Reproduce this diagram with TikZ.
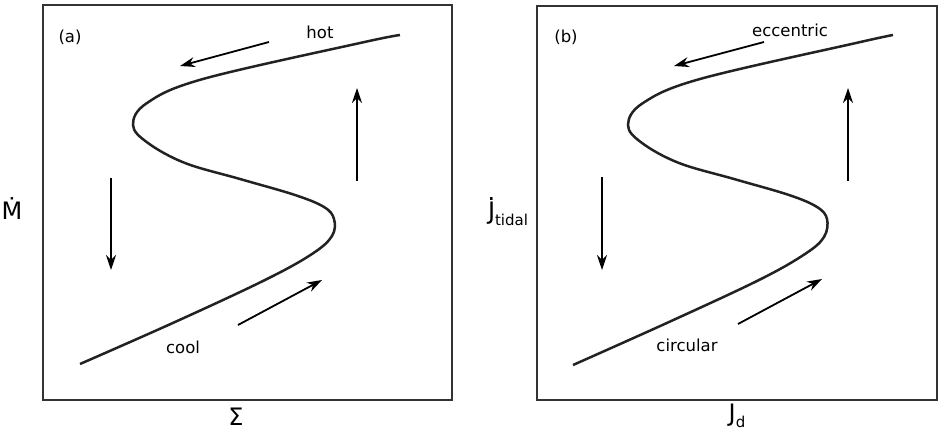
\documentclass[tikz,border=0pt]{standalone}
\usepackage{fontspec}
\setmainfont{DejaVu Sans}
\usetikzlibrary{arrows.meta}
\definecolor{frameGray}{HTML}{333333}
\definecolor{curveDark}{HTML}{222222}
\newcommand{\txtsize}{\fontsize{16.5}{19}\selectfont}
\newcommand{\subsize}{\fontsize{15}{18}\selectfont}
\newcommand{\axsize}{\fontsize{24}{27}\selectfont}
\newcommand{\dotJ}{\ooalign{J\cr\hidewidth\raisebox{0.8em}{.}\hidewidth}}

\begin{document}
\begin{tikzpicture}[x=1pt, y=-1pt, font=\txtsize, >={Stealth[length=15pt,width=10pt]}]
\tikzset{frame/.style={draw=frameGray, line width=2.7pt},
  scurve/.style={draw=curveDark, line width=2.5pt},
  flow/.style={->, line width=1.8pt}}
\useasboundingbox (0,0) rectangle (939,434);
% ---------- (a) Mdot vs Sigma ----------
\begin{scope}
  \draw[frame] (43,5) rectangle (452,400);
  \draw[scurve] plot[smooth, tension=0.6] coordinates {(80,364) (175,322) (265,280) (312,254) (332,236)
    (334,219) (324,207) (295,195) (240,179) (185,163) (148,143) (133,125)
    (147,103) (203,79) (360,43) (400,35)};
  \coordinate (hotA) at (269,42);  \coordinate (hotB) at (180,66);
  \coordinate (coolA) at (238,325); \coordinate (coolB) at (322,280);
  \coordinate (downA) at (111,178); \coordinate (downB) at (111,270);
  \coordinate (upA) at (357,181);   \coordinate (upB) at (357,88);
  \draw[flow] (hotA) -- (hotB);
  \draw[flow] (coolA) -- (coolB);
  \draw[flow] (downA) -- (downB);
  \draw[flow] (upA) -- (upB);
  \node (tagA) at (70,37) {(a)};
  \node (hot) at (320,32) {hot};
  \node (cool) at (183,347) {cool};
  \node[font=\axsize] (mdot) at (12,209) {Ṁ};
  \node[font=\axsize] (sigma) at (236,417) {Σ};
\end{scope}
% ---------- (b) Jdot_tidal vs J_d ----------
\begin{scope}[xshift=494]
  \draw[frame] (43,6) rectangle (443,400);
  \draw[scurve] plot[smooth, tension=0.6] coordinates {(79,365) (175,322) (265,280) (311,254) (330,237)
    (333,219) (323,207) (295,195) (240,179) (185,163) (148,143) (134,125)
    (149,103) (206,79) (362,43) (399,35)};
  \coordinate (eccA) at (270,42);  \coordinate (eccB) at (180,66);
  \coordinate (circA) at (244,324); \coordinate (circB) at (328,279);
  \coordinate (downA) at (108,177); \coordinate (downB) at (108,270);
  \coordinate (upA) at (354,181);   \coordinate (upB) at (354,88);
  \draw[flow] (eccA) -- (eccB);
  \draw[flow] (circA) -- (circB);
  \draw[flow] (downA) -- (downB);
  \draw[flow] (upA) -- (upB);
  \node (tagB) at (72,37) {(b)};
  \node (ecc) at (296,30) {eccentric};
  \node (circ) at (193,345) {circular};
  \node[font=\axsize] (jdot) at (14,214) {\dotJ\raisebox{-6pt}{\subsize tidal}};
  \node[font=\axsize] (jd) at (243,416) {J\raisebox{-6pt}{\subsize d}};
\end{scope}
\end{tikzpicture}
\end{document}
